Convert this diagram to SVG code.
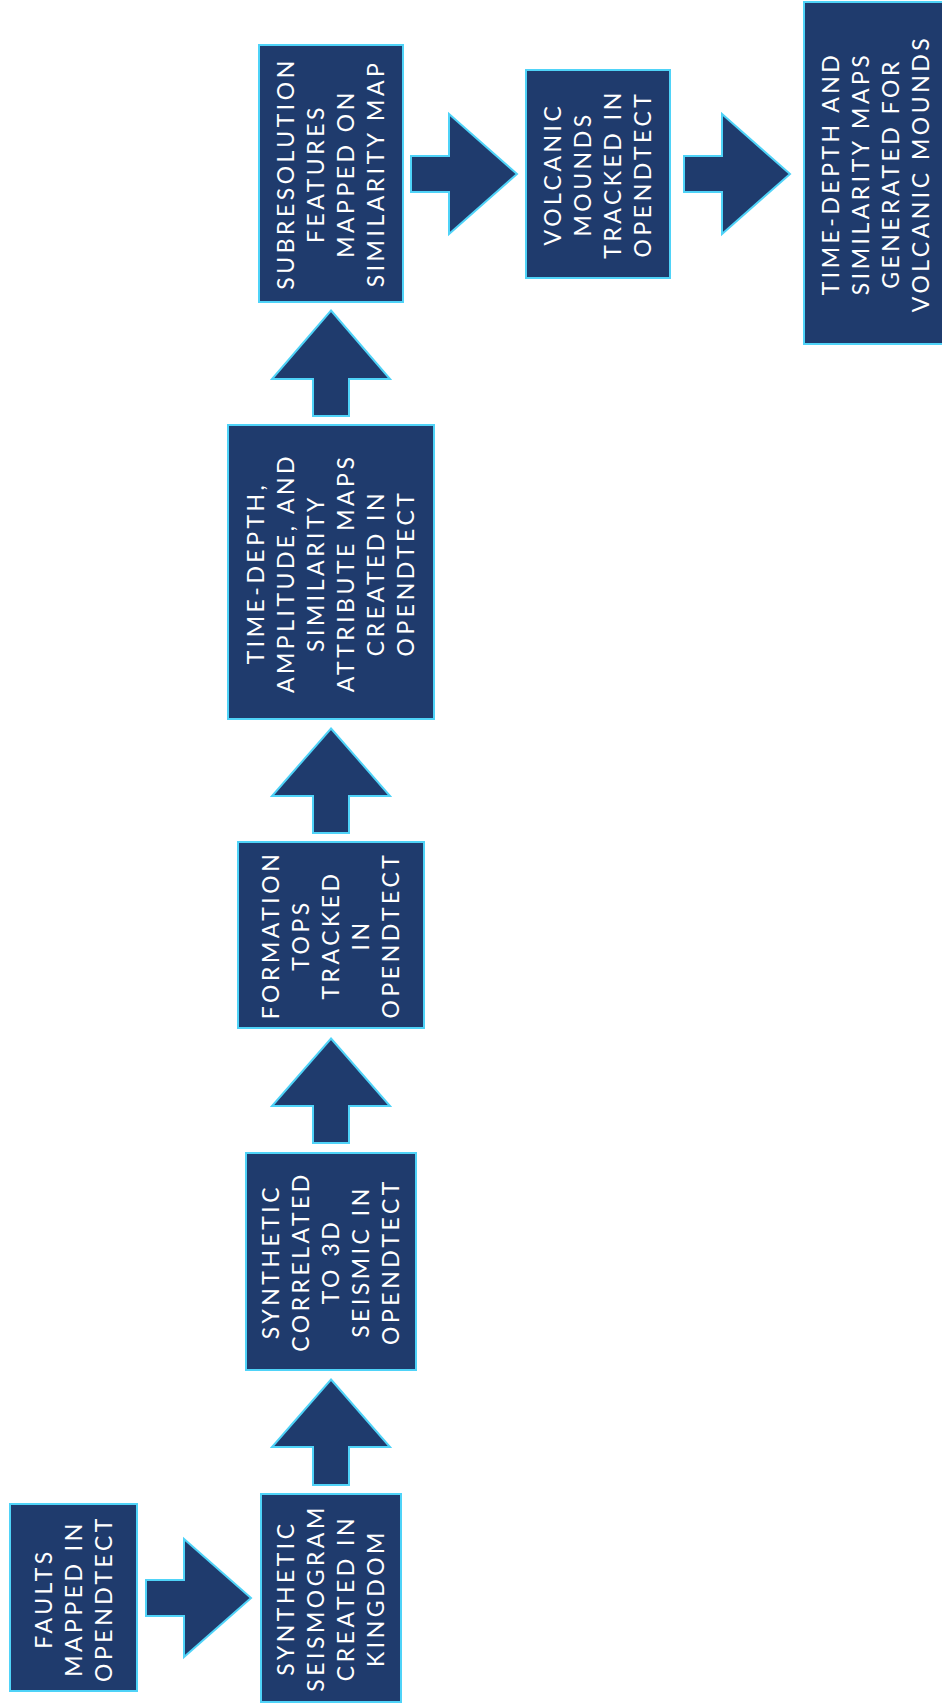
<svg xmlns="http://www.w3.org/2000/svg" width="942" height="1704" viewBox="0 0 942 1704">
<style>
.box{fill:#1f3b6d;stroke:#4fd3f8;stroke-width:2}
.arr{fill:#1f3b6d;stroke:#4fd3f8;stroke-width:2;stroke-linejoin:miter}
.lbl{font-family:Lato,"Open Sans","Liberation Sans",sans-serif;font-size:23px;letter-spacing:3.5px;fill:#ffffff;text-anchor:middle}
</style>
<rect width="942" height="1704" fill="#ffffff"/>
<g id="connectors">
<polygon class="arr" points="331,310.5 390,379 349,379 349,416 313,416 313,379 272,379"/>
<polygon class="arr" points="331,728.5 390,796 349,796 349,833 313,833 313,796 272,796"/>
<polygon class="arr" points="331,1038.5 390,1106 349,1106 349,1143 313,1143 313,1106 272,1106"/>
<polygon class="arr" points="331,1379.5 390,1447 349,1447 349,1485 313,1485 313,1447 272,1447"/>
<polygon class="arr" points="411,156 449,156 449,114 517,174 449,234 449,192 411,192"/>
<polygon class="arr" points="684,156 722,156 722,114 790,174 722,234 722,192 684,192"/>
<polygon class="arr" points="146,1580 184,1580 184,1539 251,1598 184,1657 184,1616 146,1616"/>
</g>
<g id="node-faults">
<rect class="box" x="10" y="1504" width="127" height="187"/>
<text class="lbl" transform="translate(73.5,1598.5) rotate(-90)"><tspan x="0" y="-22">FAULTS</tspan><tspan x="0" y="8">MAPPED IN</tspan><tspan x="0" y="38">OPENDTECT</tspan></text>
</g>
<g id="node-seismogram">
<rect class="box" x="261" y="1494" width="140" height="208"/>
<text class="lbl" transform="translate(331,1598) rotate(-90)"><tspan x="0" y="-37">SYNTHETIC</tspan><tspan x="0" y="-7">SEISMOGRAM</tspan><tspan x="0" y="23">CREATED IN</tspan><tspan x="0" y="53">KINGDOM</tspan></text>
</g>
<g id="node-correlated">
<rect class="box" x="246" y="1153" width="170" height="217"/>
<text class="lbl" transform="translate(331,1261.5) rotate(-90)"><tspan x="0" y="-52">SYNTHETIC</tspan><tspan x="0" y="-22">CORRELATED</tspan><tspan x="0" y="8">TO 3D</tspan><tspan x="0" y="38">SEISMIC IN</tspan><tspan x="0" y="68">OPENDTECT</tspan></text>
</g>
<g id="node-formation">
<rect class="box" x="238" y="842" width="186" height="186"/>
<text class="lbl" transform="translate(331,935) rotate(-90)"><tspan x="0" y="-52">FORMATION</tspan><tspan x="0" y="-22">TOPS</tspan><tspan x="0" y="8">TRACKED</tspan><tspan x="0" y="38">IN</tspan><tspan x="0" y="68">OPENDTECT</tspan></text>
</g>
<g id="node-timedepth">
<rect class="box" x="228" y="425" width="206" height="294"/>
<text class="lbl" transform="translate(331,573) rotate(-90)"><tspan x="0" y="-67">TIME-DEPTH,</tspan><tspan x="0" y="-37">AMPLITUDE, AND</tspan><tspan x="0" y="-7">SIMILARITY</tspan><tspan x="0" y="23">ATTRIBUTE MAPS</tspan><tspan x="0" y="53">CREATED IN</tspan><tspan x="0" y="83">OPENDTECT</tspan></text>
</g>
<g id="node-subresolution">
<rect class="box" x="259" y="45" width="144" height="257"/>
<text class="lbl" transform="translate(331,173.5) rotate(-90)"><tspan x="0" y="-37">SUBRESOLUTION</tspan><tspan x="0" y="-7">FEATURES</tspan><tspan x="0" y="23">MAPPED ON</tspan><tspan x="0" y="53">SIMILARITY MAP</tspan></text>
</g>
<g id="node-volcanic">
<rect class="box" x="526" y="70" width="144" height="208"/>
<text class="lbl" transform="translate(598,174) rotate(-90)"><tspan x="0" y="-37">VOLCANIC</tspan><tspan x="0" y="-7">MOUNDS</tspan><tspan x="0" y="23">TRACKED IN</tspan><tspan x="0" y="53">OPENDTECT</tspan></text>
</g>
<g id="node-maps">
<rect class="box" x="804" y="2" width="150" height="342"/>
<text class="lbl" transform="translate(875.5,173.5) rotate(-90)"><tspan x="0" y="-37">TIME-DEPTH AND</tspan><tspan x="0" y="-7">SIMILARITY MAPS</tspan><tspan x="0" y="23">GENERATED FOR</tspan><tspan x="0" y="53">VOLCANIC MOUNDS</tspan></text>
</g>
</svg>
